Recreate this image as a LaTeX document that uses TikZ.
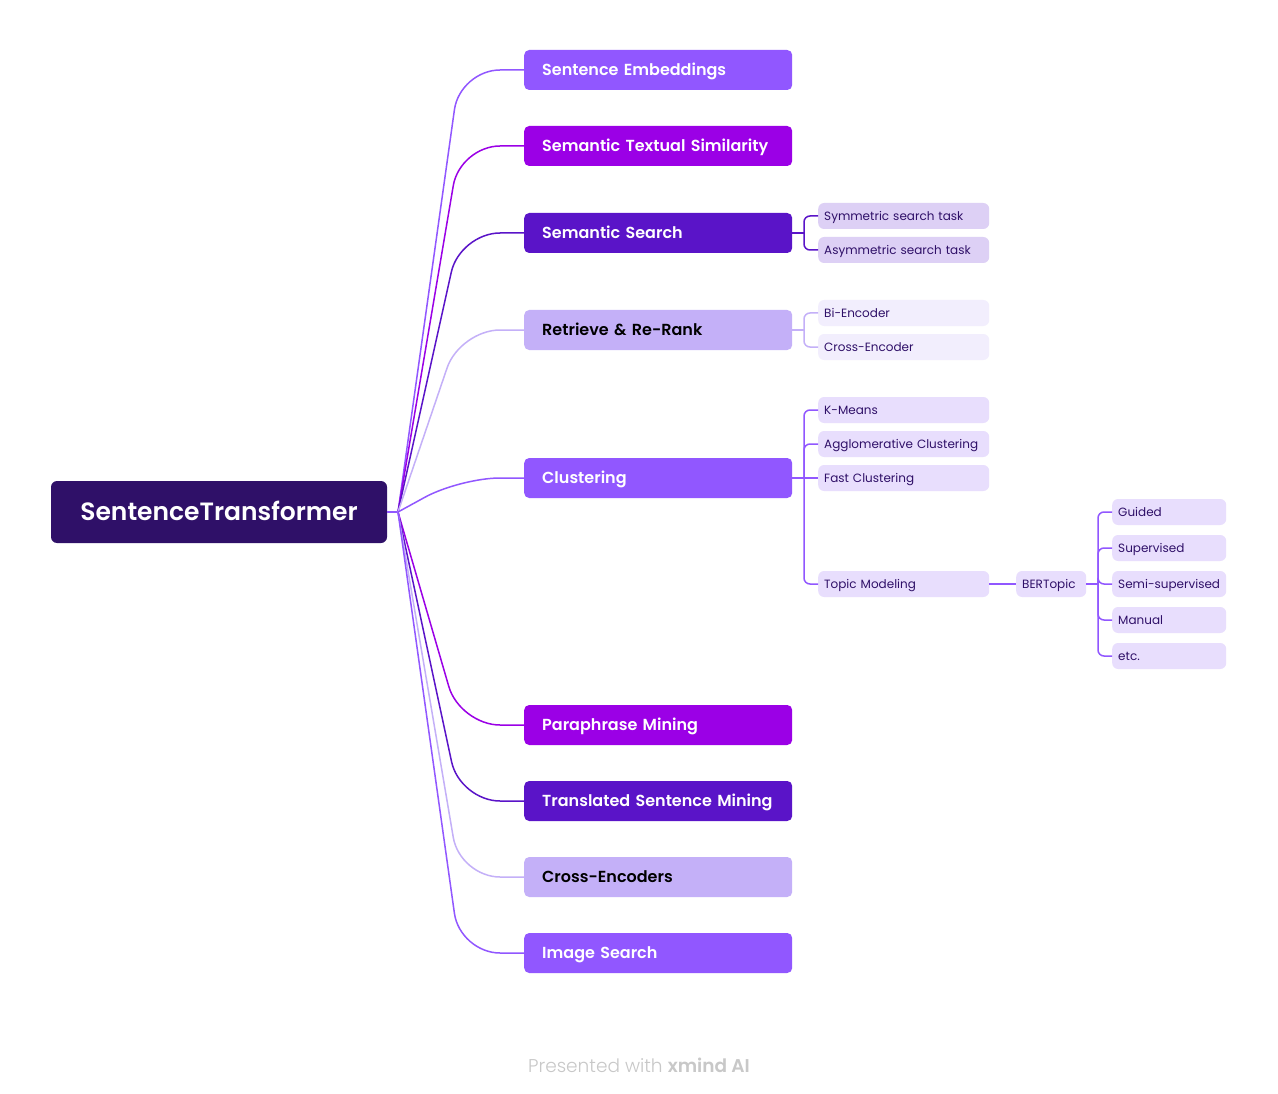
\documentclass[tikz,border=0pt]{standalone}
\usepackage{fontspec}
\setmainfont{Poppins}[BoldFont={Poppins SemiBold}]
\usetikzlibrary{positioning}
\definecolor{rootPurple}{RGB}{47,16,104}
\definecolor{midViolet}{RGB}{145,87,255}
\definecolor{magViolet}{RGB}{155,0,230}
\definecolor{deepViolet}{RGB}{90,20,200}
\definecolor{paleLilac}{RGB}{196,176,248}
\definecolor{leafDark}{RGB}{221,208,245}
\definecolor{leafPale}{RGB}{242,238,253}
\definecolor{leafMid}{RGB}{232,222,253}
\definecolor{footGray}{RGB}{200,200,200}
\tikzset{
  rootbox/.style={rounded corners=6pt,minimum width=336pt,minimum height=62pt,
                  text height=17.5pt,text depth=0pt,
                  fill=rootPurple,text=white,font=\fontsize{25}{28}\selectfont\bfseries},
  topic/.style={rounded corners=5pt,minimum height=40pt,text width=232pt,inner xsep=18pt,
                text height=11.2pt,text depth=0pt,
                align=left,anchor=west,font=\fontsize{16}{19}\selectfont\bfseries,text=white},
  leaf/.style={rounded corners=6pt,minimum height=26pt,inner xsep=6pt,inner ysep=0pt,
               text height=8.4pt,text depth=0pt,
               align=left,anchor=west,font=\fontsize{12}{14}\selectfont,text=rootPurple},
  link/.style={line width=1.5pt,rounded corners=40pt},
  brk/.style={line width=1.5pt,rounded corners=6pt},
}
\begin{document}
\begin{tikzpicture}[x=1pt,y=-1pt]
  \useasboundingbox[fill=white] (0,0) rectangle (1278,1094);
  \node[rootbox] (root) at (219,512) {SentenceTransformer};
  \coordinate (hub) at (398,512);
  \coordinate (bend) at (460,0);
  % main topics
  \node[topic,fill=midViolet]                (emb)   at (524,70)  {Sentence Embeddings};
  \node[topic,fill=magViolet]                (sts)   at (524,146) {Semantic Textual Similarity};
  \node[topic,fill=deepViolet]               (srch)  at (524,233) {Semantic Search};
  \node[topic,fill=paleLilac,text=black]     (rerank) at (524,330) {Retrieve \& Re-Rank};
  \node[topic,fill=midViolet]                (clust) at (524,478) {Clustering};
  \node[topic,fill=magViolet]                (para)  at (524,725) {Paraphrase Mining};
  \node[topic,fill=deepViolet]               (trans) at (524,801) {Translated Sentence Mining};
  \node[topic,fill=paleLilac,text=black]     (cross) at (524,877) {Cross-Encoders};
  \node[topic,fill=midViolet]                (img)   at (524,953) {Image Search};
  \draw[line width=1.5pt,midViolet] (root.east) -- (hub);
  \foreach \b/\c in {emb/midViolet,sts/magViolet,srch/deepViolet,rerank/paleLilac,clust/midViolet,
                     para/magViolet,trans/deepViolet,cross/paleLilac,img/midViolet}
    \draw[link,\c] (hub) -- (\b.west -| bend) -- (\b.west);
  % semantic search
  \node[leaf,fill=leafDark,text width=159pt] (sym)  at (818,216) {Symmetric search task};
  \node[leaf,fill=leafDark,text width=159pt] (asym) at (818,250) {Asymmetric search task};
  \coordinate (sb) at (804,233);
  \draw[line width=1.5pt,deepViolet] (srch.east) -- (sb);
  \foreach \l in {sym,asym}
    \draw[brk,deepViolet] (sb) |- (\l.west);
  % retrieve & re-rank
  \node[leaf,fill=leafPale,text width=159pt] (bienc) at (818,313) {Bi-Encoder};
  \node[leaf,fill=leafPale,text width=159pt] (crenc) at (818,347) {Cross-Encoder};
  \coordinate (rb) at (804,330);
  \draw[line width=1.5pt,paleLilac] (rerank.east) -- (rb);
  \foreach \l in {bienc,crenc}
    \draw[brk,paleLilac] (rb) |- (\l.west);
  % clustering
  \node[leaf,fill=leafMid,text width=159pt] (kmeans) at (818,410) {K-Means};
  \node[leaf,fill=leafMid,text width=159pt] (agglo)  at (818,444) {Agglomerative Clustering};
  \node[leaf,fill=leafMid,text width=159pt] (fast)   at (818,478) {Fast Clustering};
  \node[leaf,fill=leafMid,text width=159pt] (tmod)   at (818,584) {Topic Modeling};
  \coordinate (cb) at (804,478);
  \draw[line width=1.5pt,midViolet] (clust.east) -- (fast.west);
  \foreach \l in {kmeans,agglo,tmod}
    \draw[brk,midViolet] (cb) |- (\l.west);
  % bertopic
  \node[leaf,fill=leafMid,text width=58pt] (bert) at (1016,584) {BERTopic};
  \draw[line width=1.5pt,midViolet] (tmod.east) -- (bert.west);
  \coordinate (bb) at (1098,584);
  \draw[line width=1.5pt,midViolet] (bert.east) -- (bb);
  \foreach \n/\t/\y in {guid/Guided/512,sup/Supervised/548,semi/Semi-supervised/584,man/Manual/620,etc/etc./656}{
    \node[leaf,fill=leafMid,text width=102pt] (\n) at (1112,\y) {\t};
    \draw[brk,midViolet] (bb) |- (\n.west);
  }
  \node[text=footGray,font=\fontsize{18.5}{20}\selectfont] (foot) at (639,1065)
    {\fontspec{Poppins Light}Presented with \textbf{xmind AI}};
\end{tikzpicture}
\end{document}
